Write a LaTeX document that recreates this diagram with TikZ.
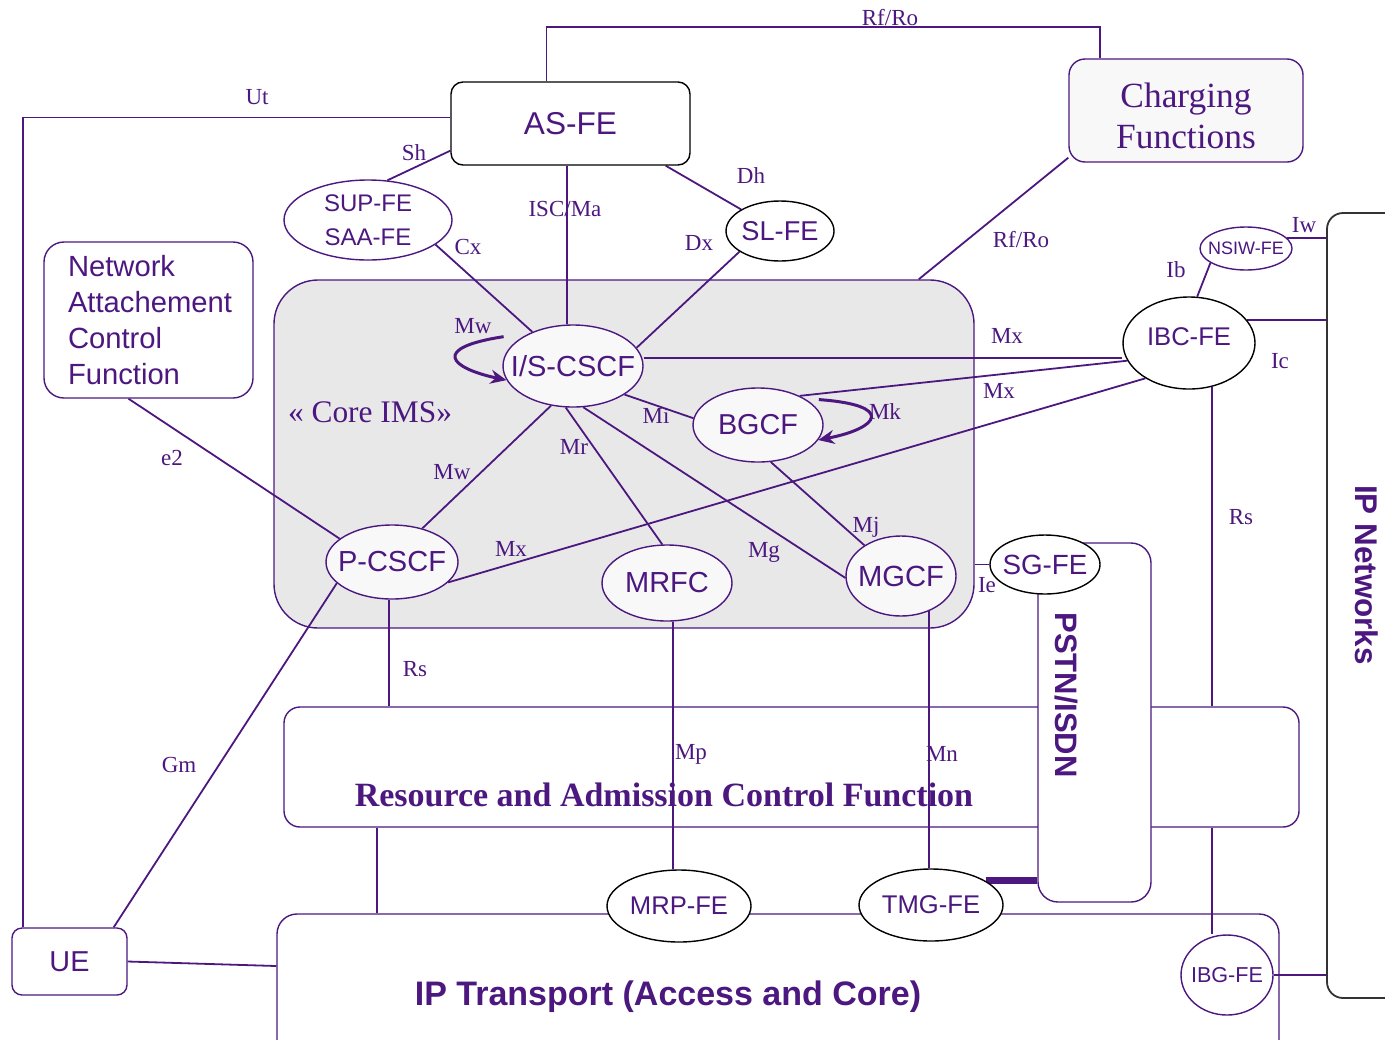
\documentclass[tikz,border=0pt]{standalone}
\usepackage{fontspec}
\setmainfont{Liberation Serif}
\setsansfont{Liberation Sans}
\usetikzlibrary{shapes.geometric, arrows.meta, positioning, backgrounds}
\pgfdeclarelayer{edges}
\pgfsetlayers{background,edges,main}
\definecolor{imsviolet}{RGB}{76,24,128}
\definecolor{coregray}{RGB}{232,232,232}
\definecolor{fegray}{RGB}{248,248,248}
\newcommand{\fsz}[2]{\fontsize{#1}{#2}\selectfont}

\begin{document}
\begin{tikzpicture}[x=0.5pt, y=-0.5pt,
      every node/.append style={text=imsviolet},
      rbox/.style={rectangle, rounded corners=#1, draw=imsviolet, line width=0.7pt, fill=white, inner sep=0pt},
      rbox/.default=8pt,
      fe/.style={ellipse, draw=imsviolet, line width=0.7pt, fill=fegray, inner sep=0pt},
      feb/.style={fe, draw=black, fill=white},
      fename/.style={font=\sffamily\fsz{#1}{#1}, inner sep=0pt},
      lbl/.style={font=\fsz{11.5}{13}, inner sep=0pt},
      link/.style={draw=imsviolet, line width=0.9pt},
      loopy/.style={draw=imsviolet, line width=1.5pt, -{Stealth[length=8pt,width=7pt]}}]
      \useasboundingbox (0,0) rectangle (1385,1039);

      % big areas
      \begin{scope}[on background layer]
        \node[rbox=22pt, fill=coregray, minimum width=350pt, minimum height=174pt] (core) at (624,454) {};
        \node[rbox, minimum width=507.5pt, minimum height=60pt] (racf) at (791.5,767) {};
        \node[rbox=10pt, minimum width=56.5pt, minimum height=179.5pt] (pstn) at (1094.5,722.5) {};
        \node[rbox=10pt, minimum width=501pt, minimum height=75pt] (iptr) at (778,989) {};
        \node[rbox, draw=black!80, line width=0.9pt, minimum width=46.5pt, minimum height=392.5pt] (ipnet) at (1373.5,605.5) {};
      \end{scope}

      \node[font=\fsz{15.7}{18}] (coretxt) at (370,412) {« Core IMS»};
      \node[font=\bfseries\fsz{17}{20}] (racftxt) at (664,795) {Resource and Admission Control Function};
      \node[font=\sffamily\bfseries\fsz{17}{20}] (iptrtxt) at (668,997) {IP Transport (Access and Core)};
      \node[rotate=-90, font=\sffamily\bfseries\fsz{15.5}{18}] (pstntxt) at (1066,695) {PSTN/ISDN};
      \node[rotate=-90, font=\sffamily\bfseries\fsz{15.7}{18}] (ipnettxt) at (1367,575) {IP Networks};

      % boxes
      \node[rbox=6pt, draw=black, minimum width=119.5pt, minimum height=41.5pt, font=\sffamily\fsz{15.8}{18}] (asfe) at (570.5,123.5) {AS-FE};
      \node[rbox, fill=fegray, minimum width=117pt, minimum height=51.5pt,
            label={[align=center, font=\fsz{17.7}{20.5}, yshift=-2.5pt]center:Charging\\Functions}] (charging) at (1186,110.5) {};
      \node[rbox=10pt, minimum width=104.5pt, minimum height=78pt, text width=80.5pt, inner xsep=12pt, align=left, font=\sffamily\fsz{14.6}{18}] (nacf) at (148.5,320) {Network\\Attachement\\Control\\Function};
      \node[rbox=5pt, minimum width=57.5pt, minimum height=33.5pt, font=\sffamily\fsz{14.4}{17}] (ue) at (69.5,961.5) {UE};

      % functional entities
      \node[fe, fill=white, minimum width=84pt, minimum height=40pt, label={[font=\sffamily\fsz{12}{17}, align=center]center:SUP-FE\\SAA-FE}] (supfe) at (368,220) {};
      \node[feb, minimum width=54pt, minimum height=30pt, label={[fename=13.6]center:SL-FE}] (slfe) at (780,231) {};
      \node[fe, minimum width=70pt, minimum height=41pt, label={[fename=14.5]center:I/S-CSCF}] (iscscf) at (573,366) {};
      \node[fe, minimum width=65pt, minimum height=37pt, label={[fename=14.4]center:BGCF}] (bgcf) at (758,425) {};
      \node[fe, minimum width=66pt, minimum height=37pt, label={[fename=14.5]center:P-CSCF}] (pcscf) at (392,562) {};
      \node[fe, minimum width=65pt, minimum height=38pt, label={[fename=14.5]center:MRFC}] (mrfc) at (667,583) {};
      \node[fe, minimum width=55pt, minimum height=40pt, label={[fename=14.6]center:MGCF}] (mgcf) at (901,576) {};
      \node[feb, minimum width=55pt, minimum height=29.5pt, label={[fename=13.9]center:SG-FE}] (sgfe) at (1045,564.5) {};
      \node[feb, minimum width=66pt, minimum height=46pt, label={[fename=12.8, yshift=3pt]center:IBC-FE}] (ibcfe) at (1189,343) {};
      \node[fe, fill=white, minimum width=46pt, minimum height=21.5pt, label={[fename=9]center:NSIW-FE}] (nsiwfe) at (1246,248.5) {};
      \node[feb, minimum width=72pt, minimum height=36pt, label={[fename=12.8]center:MRP-FE}] (mrpfe) at (679,906) {};
      \node[feb, minimum width=72pt, minimum height=36pt, label={[fename=12.8]center:TMG-FE}] (tmgfe) at (931,905) {};
      \node[fe, fill=white, minimum width=46pt, minimum height=40pt, label={[fename=10.8]center:IBG-FE}] (ibgfe) at (1227,975) {};

      % reference points
      \begin{pgfonlayer}{edges}
        \draw[link] ([yshift=7.5pt]asfe.south west) -- (supfe.64);
        \draw[link] ([xshift=-3pt]iscscf.north) coordinate (isc) -- (isc |- asfe.south);
        \draw[link] ([xshift=-12.5pt]asfe.south east) -- (slfe.151);
        \draw[link] (slfe.207) -- (iscscf.16);
        \draw[link] (supfe.340) -- (iscscf.140);
        \draw[link] ([xshift=-12pt]asfe.north) -- ++(0,-54) -| ([xshift=-43pt]charging.north);
        \draw[link] ([yshift=2.5pt]charging.south west) -- ([xshift=-28pt]core.north east);
        \draw[link] ([xshift=6pt]ue.north west) |- ([yshift=3pt]asfe.west);
        \draw[link] ([xshift=-10pt]nacf.south) -- (pcscf.156);
        \draw[link] ([xshift=-7pt]ue.north east) -- (pcscf.201);
        \draw[link] (ue.east) -- ([yshift=11.5pt]iptr.west);
        \draw[link] ([xshift=-1.5pt]pcscf.south) coordinate (rs) -- (rs |- racf.north);
        \draw[link] ([xshift=47pt]racf.south west) coordinate (rt) -- (rt |- iptr.north);
        \draw[link] ([xshift=3pt]mrfc.south) coordinate (mp) -- (mp |- mrpfe.north);
        \draw[link] (mgcf.-52) -- (mgcf.-52 |- tmgfe.north);
        \draw[link] (sgfe.west) -- (sgfe.west -| core.east);
        \draw[imsviolet, line width=3.5pt] (tmgfe.24) -- (tmgfe.24 -| pstn.west);
        \draw[link] ([yshift=4pt]iscscf.east) -- ([yshift=4pt]iscscf.east -| ibcfe.west);
        \draw[link] (bgcf.35) -- (ibcfe.196);
        \draw[link] (pcscf.-20) -- (ibcfe.219);
        \draw[link] (iscscf.331) -- (bgcf.174);
        \draw[link] (iscscf.241) -- (pcscf.48);
        \draw[link] (iscscf.260) -- (mrfc.97);
        \draw[link] (iscscf.284) -- (mgcf.182);
        \draw[link] (bgcf.289) -- (mgcf.140);
        \draw[link] (nsiwfe.202) -- (ibcfe.80);
        \draw[link] (nsiwfe.15) -- (nsiwfe.15 -| ipnet.west);
        \draw[link] (ibcfe.22) -- (ibcfe.22 -| ipnet.west);
        \draw[link] (ibcfe.-62) -- (ibcfe.-62 |- racf.north);
        \draw[link] (ibcfe.-62 |- racf.south) -- (ibcfe.-62 |- ibgfe.north);
        \draw[link] (ibgfe.east) -- (ibgfe.east -| ipnet.west);
        \draw[loopy] ([shift={(-12,-5)}]iscscf.157) .. controls (430,348) and (450,368) .. (iscscf.192);
        \draw[loopy] ([shift={(8,-3)}]bgcf.23) .. controls (895,405) and (880,428) .. (bgcf.-14);
      \end{pgfonlayer}

      % interface names
      \node[lbl] (rfro1) at (890,18) {Rf/Ro};
      \node[lbl] (rfro2) at (1021,240) {Rf/Ro};
      \node[lbl] (iscma) at (565,209) {ISC/Ma};
      \foreach \lx/\ly/\lt [count=\i] in {257/97/Ut, 414/153/Sh, 751/176/Dh, 468/247/Cx, 699/243/Dx,
          1304/225/Iw, 1176/270/Ib, 473/326/Mw, 1007/336/Mx, 1280/361/Ic, 999/391/Mx, 885/412/Mk,
          656/416/Mi, 574/447/Mr, 172/458/e2, 452/472/Mw, 1241/517/Rs, 866/527/Mj, 511/549/Mx,
          764/552/Mg, 987/585/Ie, 415/669/Rs, 691/754/Mp, 942/754/Mn, 179/765/Gm}
        \node[lbl] (if\i) at (\lx,\ly) {\lt};
    \end{tikzpicture}
\end{document}
